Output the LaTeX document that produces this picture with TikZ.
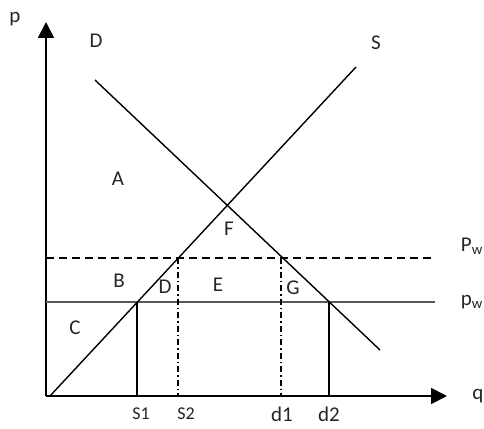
\documentclass[tikz,border=0pt]{standalone}
\usepackage{fontspec}
\setmainfont{Carlito}
\usetikzlibrary{arrows.meta}
\begin{document}
\begin{tikzpicture}[x=1pt,y=-1pt,
  axis/.style={line width=1.8pt,-{Triangle[length=16pt,width=16pt]}},
  curve/.style={line width=1.4pt},
  pricedash/.style={line width=1.3pt,dash pattern=on 8pt off 5pt},
  priceline/.style={line width=1.4pt,black!65},
  dropsolid/.style={line width=1.3pt},
  dropdash/.style={line width=1.2pt,dash pattern=on 6pt off 3pt on 1.5pt off 3pt},
  lbl/.style={font=\fontsize{21}{24}\selectfont,inner sep=0pt,text=black!85}]
\useasboundingbox (0,0) rectangle (484,428);
\fill[white] (0,0) rectangle (484,428);
% axes
\coordinate (O) at (46,396);
\coordinate (ytop) at (46,22);
\coordinate (xend) at (447,396);
\draw[axis] (O) -- (ytop);
\draw[axis] (O) -- (xend);
% price lines
\coordinate (pwl) at (46,258);
\coordinate (pwr) at (431,258);
\coordinate (pdl) at (46,302);
\coordinate (pdr) at (435,302);
\draw[pricedash] (pwl) -- (pwr);
\draw[priceline] (pdl) -- (pdr);
% supply and demand
\coordinate (s0) at (50,396);
\coordinate (s1) at (356,67);
\coordinate (d0) at (95,80);
\coordinate (d1) at (380,350);
\draw[curve] (s0) -- (s1);
\draw[curve] (d0) -- (d1);
% verticals
\coordinate (S1t) at (137,302); \coordinate (S1b) at (137,396);
\coordinate (S2t) at (178,258); \coordinate (S2b) at (178,396);
\coordinate (D1t) at (281,258); \coordinate (D1b) at (281,396);
\coordinate (D2t) at (329,302); \coordinate (D2b) at (329,396);
\draw[dropsolid] (S1t) -- (S1b);
\draw[dropsolid] (D2t) -- (D2b);
\draw[dropdash] (S2t) -- (S2b);
\draw[dropdash] (D1t) -- (D1b);
% labels
\node[lbl] (lp) at (15,19) {p};
\node[lbl] (lq) at (478,396) {q};
\node[lbl] (lD) at (96,41) {D};
\node[lbl] (lS) at (376,43) {S};
\node[lbl] (lA) at (118,179) {A};
\node[lbl] (lF) at (229,229) {F};
\node[lbl] (lB) at (119,281) {B};
\node[lbl] (lDD) at (165,287) {D};
\node[lbl] (lE) at (218,285) {E};
\node[lbl] (lG) at (293,288) {G};
\node[lbl] (lC) at (75,328) {C};
\node[lbl,anchor=east] (lPw) at (483,246) {P\textsubscript{w}};
\node[lbl,anchor=east] (lpw) at (483,302) {p\textsubscript{w}};
\node[lbl,font=\fontsize{18}{21}\selectfont] (lS1) at (141,414) {S1};
\node[lbl,font=\fontsize{18}{21}\selectfont] (lS2) at (186,414) {S2};
\node[lbl] (ld1) at (282,414) {d1};
\node[lbl] (ld2) at (329,414) {d2};
\end{tikzpicture}
\end{document}
